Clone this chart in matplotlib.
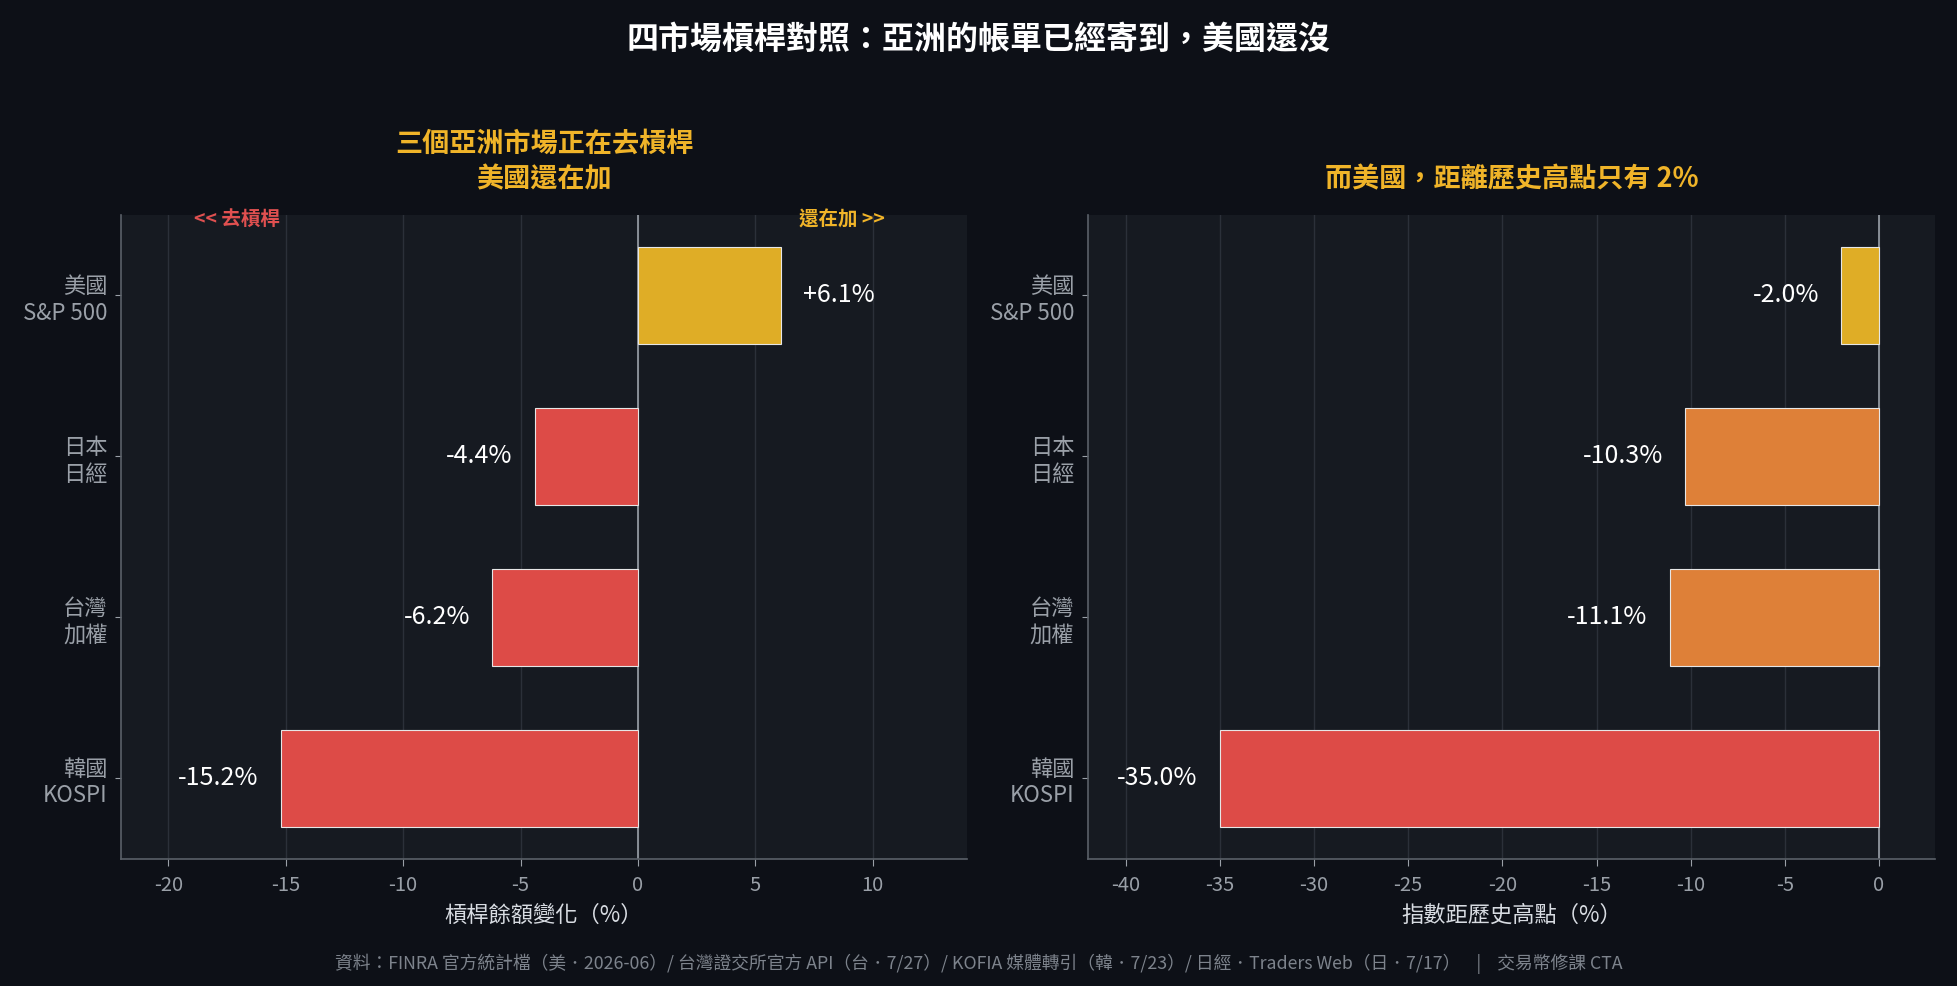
import matplotlib
matplotlib.use("Agg")
import matplotlib.pyplot as plt

plt.rcParams['font.family'] = ['Noto Sans CJK TC', 'DejaVu Sans']

# 資料
markets = ["韓國\nKOSPI", "台灣\n加權", "日本\n日經", "美國\nS&P 500"]
margin_change = [-15.2, -6.2, -4.4, 6.1]
from_high = [-35.0, -11.1, -10.3, -2.0]
margin_colors = ["#dd4b47", "#dd4b47", "#dd4b47", "#dfad26"]
high_colors = ["#dd4b47", "#de8038", "#de8038", "#dfad26"]
left_ticks = [-20, -15, -10, -5, 0, 5, 10]
right_ticks = [-40, -35, -30, -25, -20, -15, -10, -5, 0]

bg = "#0d1017"
panel = "#161a21"
gold = "#f0b429"
grey = "#9aa0a8"

fig = plt.figure(figsize=(19.57, 9.86), dpi=100, facecolor=bg)
ax1 = fig.add_axes([0.062, 0.129, 0.432, 0.653])
ax2 = fig.add_axes([0.556, 0.129, 0.433, 0.653])


def style(ax, xlim, ticks, xlabel):
    ax.set_facecolor(panel)
    ax.set_xlim(*xlim)
    ax.set_ylim(-0.5, 3.5)
    ax.set_xticks(ticks)
    ax.set_xticklabels([str(t) for t in ticks])
    ax.set_yticks(range(len(markets)))
    ax.set_yticklabels(markets, fontsize=16, color=grey, linespacing=1.2)
    ax.tick_params(axis='x', colors=grey, labelsize=14.5, length=5, pad=7)
    ax.tick_params(axis='y', colors=grey, length=4, pad=6)
    ax.grid(axis='x', color="#2b3039", linewidth=1)
    ax.set_axisbelow(True)
    ax.axvline(0, color="#9aa0a8", linewidth=1.2, zorder=1)
    for s in ["top", "right"]:
        ax.spines[s].set_visible(False)
    for s in ["left", "bottom"]:
        ax.spines[s].set_color("#5a6068")
        ax.spines[s].set_linewidth(1.2)
    ax.set_xlabel(xlabel, fontsize=16, color="#d8dce2", labelpad=5)


def bars(ax, vals, cols):
    ax.barh(range(len(vals)), vals, height=0.6, color=cols,
            edgecolor="#e6e6e6", linewidth=0.8, zorder=3)


# 左圖：槓桿餘額變化
style(ax1, (-22, 14), left_ticks, "槓桿餘額變化（%）")
bars(ax1, margin_change, margin_colors)
for i, v in enumerate(margin_change):
    lab = f"+{v:.1f}%" if v > 0 else f"{v:.1f}%"
    ax1.annotate(lab, (v, i), xytext=(16 if v > 0 else -16, 0), textcoords="offset points",
                 ha="left" if v > 0 else "right", va="center", fontsize=18, color="white")
ax1.text(-18.9, 3.47, "<< 去槓桿", color="#e05050", fontsize=14, fontweight="bold",
         ha="left", va="center")
ax1.text(10.5, 3.47, "還在加 >>", color=gold, fontsize=14, fontweight="bold",
         ha="right", va="center")
ax1.set_title("三個亞洲市場正在去槓桿\n美國還在加", color=gold, fontsize=19.5,
              fontweight="bold", pad=20, linespacing=1.35)

# 右圖：距歷史高點
style(ax2, (-42, 3), right_ticks, "指數距歷史高點（%）")
bars(ax2, from_high, high_colors)
for i, v in enumerate(from_high):
    ax2.annotate(f"{v:.1f}%", (v, i), xytext=(-16, 0), textcoords="offset points",
                 ha="right", va="center", fontsize=18, color="white")
ax2.set_title("而美國，距離歷史高點只有 2%", color=gold, fontsize=19.5,
              fontweight="bold", pad=20)

fig.text(0.5, 0.96, "四市場槓桿對照：亞洲的帳單已經寄到，美國還沒", color="white",
         fontsize=23, fontweight="bold", ha="center", va="center")
fig.text(0.5, 0.022,
         "資料：FINRA 官方統計檔（美．2026-06）/ 台灣證交所官方 API（台．7/27）/ KOFIA 媒體轉引（韓．7/23）/ 日經．Traders Web（日．7/17）    |    交易幣修課 CTA",
         color="#7d838c", fontsize=12.8, ha="center", va="center")

fig.savefig("out.png", dpi=100, facecolor=bg)
